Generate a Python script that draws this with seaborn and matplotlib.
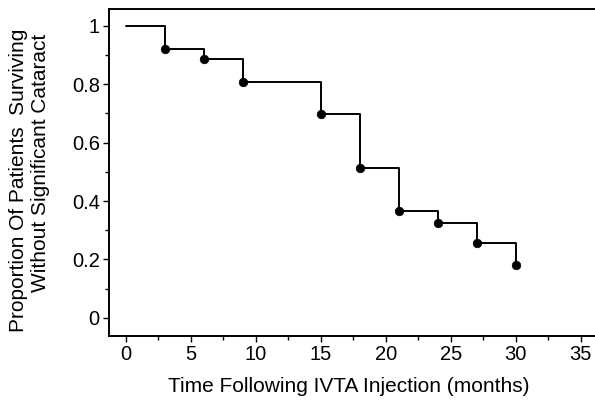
import numpy as np
import pandas as pd
import matplotlib
matplotlib.use("Agg")
import matplotlib.pyplot as plt
from matplotlib.ticker import MultipleLocator
import seaborn as sns

# Kaplan-Meier style data
months = [0, 3, 6, 9, 15, 18, 21, 24, 27, 30]
survival = [1.0, 0.920, 0.886, 0.809, 0.699, 0.513, 0.366, 0.326, 0.257, 0.182]
y_ticks = [0, 0.2, 0.4, 0.6, 0.8, 1.0]
y_tick_labels = ["0", "0.2", "0.4", "0.6", "0.8", "1"]

data = pd.DataFrame({"months": months, "survival": survival})
events = data.iloc[1:]

sns.set_style("ticks")
plt.rcParams["font.family"] = ["Liberation Sans", "DejaVu Sans"]
plt.rcParams["text.color"] = "black"

fig = plt.figure(figsize=(5.95, 4.01), dpi=100)
ax = fig.add_axes([0.183, 0.162, 0.817, 0.816])

sns.lineplot(data=data, x="months", y="survival", drawstyle="steps-post",
             color="black", linewidth=1.4, ax=ax)
sns.scatterplot(data=events, x="months", y="survival", color="black",
                s=38, edgecolor="black", zorder=3, ax=ax)

ax.set_xlim(-1.3, 36.1)
ax.set_ylim(-0.062, 1.058)
ax.xaxis.set_major_locator(MultipleLocator(5))
ax.xaxis.set_minor_locator(MultipleLocator(2.5))
ax.yaxis.set_minor_locator(MultipleLocator(0.1))
ax.set_yticks(y_ticks)
ax.set_yticklabels(y_tick_labels)

ax.tick_params(which="major", direction="out", length=4.5, width=1, labelsize=14.5,
               colors="black", pad=2)
ax.tick_params(which="minor", direction="out", length=3, width=1, colors="black")
for side in ["left", "top", "bottom"]:
    ax.spines[side].set_visible(True)
    ax.spines[side].set_linewidth(1.4)
    ax.spines[side].set_color("black")
ax.spines["right"].set_visible(False)

ax.set_xlabel("")
ax.set_ylabel("")
fig.text(349 / 595, 1 - 386 / 401, "Time Following IVTA Injection (months)",
         fontsize=15, ha="center", va="center", color="black")
fig.text(19 / 595, 1 - 180 / 401, "Proportion Of Patients  Surviving",
         fontsize=15, rotation=90, ha="center", va="center", color="black")
fig.text(41 / 595, 1 - 163 / 401, "Without Significant Cataract",
         fontsize=15, rotation=90, ha="center", va="center", color="black")

fig.savefig("out.png", dpi=100)
